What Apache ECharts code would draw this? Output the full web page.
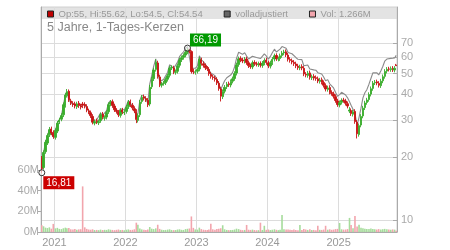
<!DOCTYPE html>
<html><head><meta charset="utf-8">
<script src="https://cdn.jsdelivr.net/npm/echarts@6/dist/echarts.min.js"></script>
<style>html,body{margin:0;padding:0;background:#fff}#c{width:450px;height:250px}</style>
</head><body><div id="c"></div>
<script>
const dates = [
"2020-10-28",
"2020-11-06","2020-11-16","2020-11-26","2020-12-06","2020-12-16","2020-12-26",
"2021-01-06","2021-01-16","2021-01-26","2021-02-06","2021-02-16","2021-02-26","2021-03-06","2021-03-16","2021-03-26","2021-04-06","2021-04-16","2021-04-26",
"2021-05-06","2021-05-16","2021-05-26","2021-06-06","2021-06-16","2021-06-26","2021-07-06","2021-07-16","2021-07-26","2021-08-06","2021-08-16","2021-08-26",
"2021-09-06","2021-09-16","2021-09-26","2021-10-06","2021-10-16","2021-10-26","2021-11-06","2021-11-16","2021-11-26","2021-12-06","2021-12-16","2021-12-26",
"2022-01-06","2022-01-16","2022-01-26","2022-02-06","2022-02-16","2022-02-26","2022-03-06","2022-03-16","2022-03-26","2022-04-06","2022-04-16","2022-04-26",
"2022-05-06","2022-05-16","2022-05-26","2022-06-06","2022-06-16","2022-06-26","2022-07-06","2022-07-16","2022-07-26","2022-08-06","2022-08-16","2022-08-26",
"2022-09-06","2022-09-16","2022-09-26","2022-10-06","2022-10-16","2022-10-26","2022-11-06","2022-11-16","2022-11-26","2022-12-06","2022-12-16","2022-12-26",
"2023-01-06","2023-01-16","2023-01-26","2023-02-06","2023-02-16","2023-02-26","2023-03-06","2023-03-16","2023-03-26","2023-04-06","2023-04-16","2023-04-26",
"2023-05-06","2023-05-16","2023-05-26","2023-06-06","2023-06-16","2023-06-26","2023-07-06","2023-07-16","2023-07-26","2023-08-06","2023-08-16","2023-08-26",
"2023-09-06","2023-09-16","2023-09-26","2023-10-06","2023-10-16","2023-10-26","2023-11-06","2023-11-16","2023-11-26","2023-12-06","2023-12-16","2023-12-26",
"2024-01-06","2024-01-16","2024-01-26","2024-02-06","2024-02-16","2024-02-26","2024-03-06","2024-03-16","2024-03-26","2024-04-06","2024-04-16","2024-04-26",
"2024-05-06","2024-05-16","2024-05-26","2024-06-06","2024-06-16","2024-06-26","2024-07-06","2024-07-16","2024-07-26","2024-08-06","2024-08-16","2024-08-26",
"2024-09-06","2024-09-16","2024-09-26","2024-10-06","2024-10-16","2024-10-26","2024-11-06","2024-11-16","2024-11-26","2024-12-06","2024-12-16","2024-12-26",
"2025-01-06","2025-01-16","2025-01-26","2025-02-06","2025-02-16","2025-02-26","2025-03-06","2025-03-16","2025-03-26","2025-04-06","2025-04-16","2025-04-26",
"2025-05-06","2025-05-16","2025-05-26","2025-06-06","2025-06-16","2025-06-26","2025-07-06","2025-07-16","2025-07-26","2025-08-06","2025-08-16","2025-08-26",
"2025-09-06","2025-09-16","2025-09-26","2025-10-06","2025-10-16","2025-10-24"
];
const opens = [
19.8,17.8,21.2,23.3,25.5,27.2,26.2,24.8,26.6,29.4,
30.3,31.8,35.2,39.3,41.2,37.0,36.0,35.8,34.7,36.1,
35.0,35.8,35.6,34.8,33.2,32.5,31.2,29.0,29.8,29.1,
29.8,32.0,30.6,31.0,32.9,35.8,36.7,35.0,33.4,32.7,
31.6,33.5,32.5,33.0,34.8,36.7,35.3,34.0,33.0,29.9,
31.8,36.8,38.7,38.0,37.3,35.8,43.3,47.3,52.4,56.2,
48.2,44.0,44.9,45.2,47.0,49.1,53.3,53.2,50.7,51.3,
54.8,58.3,59.8,61.3,63.5,65.0,63.7,51.5,50.7,51.3,
52.6,58.2,55.7,54.5,53.0,52.4,49.7,48.2,47.6,46.8,
45.0,42.2,38.8,41.2,43.3,44.7,44.1,46.0,47.4,50.3,
55.3,59.0,58.0,57.3,58.7,56.3,54.4,53.8,56.5,55.6,
55.2,55.8,54.7,56.2,58.0,56.3,54.3,56.4,58.7,61.0,
58.7,59.0,61.0,62.8,63.6,61.3,58.4,57.6,56.6,55.6,
54.3,53.2,54.0,53.0,49.6,49.0,50.4,47.8,48.5,47.8,
47.2,45.9,46.7,45.3,43.8,42.0,42.9,40.6,40.0,38.8,
37.0,35.4,36.5,37.4,37.0,35.9,33.1,33.3,32.0,33.0,
29.3,25.6,28.4,31.4,34.4,36.4,37.6,39.9,42.5,45.2,
45.7,44.9,43.8,46.2,48.5,51.4,52.6,52.3,53.0,52.0,55
];
const highs = [
20.2,21.5,24.1,25.9,27.8,27.9,26.8,27.4,29.7,30.8,
32.3,36.4,40.5,42.2,42.0,37.9,36.9,36.7,36.7,37.0,
35.9,36.6,36.5,35.7,34.0,33.3,32.0,30.2,30.5,30.2,
32.6,32.8,31.6,33.4,36.4,37.4,37.6,35.9,34.2,33.5,
34.1,34.3,33.6,35.4,37.4,37.6,36.2,34.9,33.8,32.3,
37.4,39.5,39.7,39.0,38.2,44.1,48.2,53.3,58.5,57.6,
49.4,45.7,46.1,48.0,50.0,54.3,54.8,54.5,52.3,55.9,
59.5,61.0,62.5,64.8,66.19,65.8,64.5,52.8,52.3,53.6,
60.2,59.6,57.1,55.9,54.3,53.7,50.9,49.4,48.8,48.0,
46.1,43.3,42.0,44.1,45.6,45.8,46.9,48.4,51.3,56.4,
60.3,60.5,59.5,60.0,60.2,57.7,55.8,57.7,57.9,57.0,
57.0,57.2,57.4,59.2,59.5,57.7,57.6,60.0,62.3,62.5,
60.3,62.3,64.2,65.0,65.2,62.8,59.9,59.0,58.0,57.0,
55.7,55.1,55.4,54.3,50.8,51.5,51.7,49.5,49.7,49.0,
48.4,47.7,47.9,46.4,44.9,43.8,44.0,41.6,41.0,39.8,
37.9,37.2,38.1,38.3,37.9,36.8,34.6,34.1,33.6,33.8,
30.0,28.9,32.0,35.1,37.1,38.3,40.7,43.4,46.1,46.6,
46.8,46.0,47.2,49.5,52.5,53.7,53.9,54.1,54.3,54.3,55.62
];
const lows = [
16.81,17.4,20.7,22.8,24.9,25.4,24.4,24.2,26.0,28.7,
29.6,31.0,34.4,38.4,36.6,35.4,34.7,34.1,33.9,34.3,
33.7,34.2,34.1,32.7,32.0,30.7,28.6,28.3,28.7,28.4,
29.1,30.2,29.8,30.2,32.1,34.9,34.3,32.8,32.2,31.0,
30.8,32.0,31.7,32.2,33.9,34.6,33.4,32.4,29.0,29.2,
31.0,35.9,37.2,36.6,34.6,34.9,42.2,46.1,51.1,47.3,
43.1,42.9,43.8,44.1,45.8,47.9,52.0,49.7,49.4,50.0,
53.4,56.8,58.3,59.8,61.9,62.4,50.0,49.7,49.4,50.0,
51.3,54.6,53.4,52.0,51.4,48.8,47.3,46.7,45.8,44.1,
41.4,36.8,37.8,40.2,42.2,43.2,43.0,44.9,46.2,49.0,
53.9,56.7,56.1,55.9,55.1,53.2,52.7,52.5,54.4,54.1,
53.8,53.5,53.3,54.8,55.1,53.1,52.9,55.0,57.2,57.5,
57.2,57.5,59.5,61.2,60.0,57.1,56.4,55.4,54.4,53.1,
52.1,51.9,51.9,48.6,48.0,47.8,46.8,46.6,46.4,46.2,
45.0,44.8,44.4,42.9,41.1,41.0,39.8,39.2,38.0,36.3,
34.7,34.5,35.6,36.3,35.2,34.1,32.4,31.4,31.2,28.8,
24.5,25.0,27.7,30.6,33.5,35.5,36.7,38.9,41.4,44.1,
44.0,42.9,42.7,45.0,47.3,50.1,51.2,51.0,50.9,50.7,54.5
];
const closes = [
17.6,21.0,23.5,25.3,27.0,26.0,25.0,26.8,29.0,30.0,
31.5,35.5,39.5,41.0,37.5,36.3,35.6,35.0,35.8,35.2,
34.6,35.3,35.0,33.5,32.8,31.5,29.3,29.5,29.4,29.5,
31.8,31.0,30.8,32.6,35.5,36.5,35.2,33.6,33.0,31.8,
33.3,32.8,32.8,34.5,36.5,35.5,34.3,33.2,30.2,31.5,
36.5,38.5,38.2,37.5,35.5,43.0,47.0,52.0,56.5,48.5,
44.2,44.6,45.0,46.8,48.8,53.0,53.5,51.0,51.0,54.5,
58.0,59.5,61.0,63.2,64.8,64.0,51.2,51.0,51.0,52.3,
58.5,56.0,54.8,53.3,52.7,50.0,48.5,47.9,47.0,45.2,
42.5,39.0,41.0,43.0,44.5,44.3,45.8,47.2,50.0,55.0,
58.8,58.2,57.5,58.5,56.5,54.6,54.0,56.3,55.8,55.5,
55.6,54.9,56.0,57.8,56.5,54.5,56.2,58.5,60.8,59.0,
58.8,60.8,62.6,63.4,61.5,58.6,57.8,56.8,55.8,54.5,
53.4,53.8,53.2,49.8,49.2,50.2,48.0,48.3,47.6,47.4,
46.1,46.5,45.5,44.0,42.2,42.7,40.8,40.2,39.0,37.2,
35.6,36.3,37.2,37.2,36.1,35.0,33.5,32.2,32.8,29.5,
25.8,28.2,31.2,34.2,36.2,37.4,39.7,42.3,45.0,45.5,
45.1,44.0,46.0,48.3,51.2,52.4,52.5,52.8,52.2,53.0,54.54
];
const adjusted = [
17.6,21.0,23.5,25.3,27.0,26.0,25.0,26.8,29.0,30.0,
31.5,35.5,39.5,41.0,37.5,36.3,35.6,35.0,35.8,35.9,
35.3,36.0,35.7,34.2,33.5,32.1,29.9,30.1,30.0,30.1,
32.4,31.6,31.4,33.3,36.2,37.2,35.9,34.3,33.7,32.4,
34.0,33.5,33.5,35.2,37.2,36.2,35.0,33.9,30.8,32.1,
37.2,39.3,39.0,38.3,36.2,44.7,48.9,54.1,58.8,50.4,
46.0,46.4,46.8,48.7,50.8,55.1,55.6,53.0,53.0,56.7,
60.3,61.9,63.4,65.7,67.4,66.6,53.2,53.0,53.0,54.4,
60.8,58.2,57.0,55.4,54.8,52.0,50.4,49.8,48.9,47.0,
44.2,41.9,44.1,46.2,47.8,47.6,49.2,50.7,53.8,59.1,
63.2,62.6,61.8,62.9,60.7,58.7,58.1,60.5,60.0,59.7,
59.8,59.0,60.2,62.1,60.7,58.6,60.4,62.9,65.4,63.4,
63.2,65.4,67.3,68.2,66.1,63.0,62.1,62.2,61.1,59.7,
58.5,58.9,58.3,54.5,53.9,55.0,52.6,52.9,52.1,51.9,
50.5,50.9,49.8,48.2,46.2,46.8,44.7,44.0,42.7,40.7,
39.0,39.7,40.7,40.7,39.5,38.3,36.7,35.3,35.9,32.3,
28.3,30.9,34.2,38.3,40.5,41.9,44.5,47.4,50.4,51.0,
50.5,49.3,51.5,54.1,57.3,58.7,58.8,59.1,58.5,59.4,61.1
];
// volume in millions
const volumes = [
6.5,5.5,4.2,3.8,4.5,3.2,7.8,3.5,4.0,3.0,
2.8,3.6,4.2,3.5,3.8,2.6,2.4,2.8,2.2,2.5,
2.7,44.0,4.5,3.0,2.4,2.2,2.6,1.9,2.0,1.8,
2.3,1.9,2.1,2.0,2.6,2.2,2.0,1.8,2.1,2.4,
1.9,2.0,1.7,2.2,2.5,2.0,2.1,2.6,9.0,7.0,
3.4,2.5,2.2,2.0,2.4,4.8,3.2,2.8,3.5,7.0,
3.0,2.2,1.9,2.0,2.3,2.6,2.0,1.8,1.9,2.4,
2.6,2.1,2.0,2.8,3.1,3.4,15.0,4.0,2.5,2.3,
4.2,2.8,2.2,2.0,1.9,2.4,8.0,2.6,2.2,2.8,
3.2,3.6,6.5,2.6,2.0,1.8,1.9,2.0,2.4,3.2,
2.8,2.1,1.8,2.0,6.8,2.2,2.0,2.3,1.9,1.7,
1.8,9.0,2.0,6.0,2.1,2.4,1.9,2.2,2.6,2.1,
1.8,2.2,16.4,2.6,2.3,2.5,2.1,1.9,2.3,2.0,
1.8,6.8,2.0,3.0,2.4,2.0,2.6,1.9,2.0,1.8,
6.0,2.1,2.0,2.3,6.0,2.2,2.6,2.1,2.3,2.8,
3.0,8.7,2.6,2.3,2.4,2.8,13.6,6.8,3.5,15.5,
5.2,7.0,4.0,3.6,3.2,2.8,3.0,3.4,2.9,2.6,
2.4,2.8,2.5,2.7,3.0,2.6,2.4,2.2,2.5,2.3,1.266
];
const priceTicks = [10, 20, 30, 40, 50, 60, 70];
const volumeTicks = [0, 20, 40, 60]; // millions
const title = '5 Jahre, 1-Tages-Kerzen';

const priceMin = 8.76, priceMax = 104, volMax = 217; // axis ranges
const FONT = 'Liberation Sans, Arial, Helvetica, sans-serif';
const UP = '#3aad2c', DOWN = '#c81414';
const VOL_UP = '#a6dc9c', VOL_DOWN = '#f2a5ad';
const last = dates.length - 1;

const candleData = dates.map((d, i) => [d, opens[i], closes[i], lows[i], highs[i]]);
const adjData = dates.map((d, i) => [d, adjusted[i]]);
const volData = dates.map((d, i) => ({
  value: [d, volumes[i] * 1e6],
  itemStyle: { color: closes[i] >= opens[i] ? VOL_UP : VOL_DOWN }
}));
let hiIdx = 0, loIdx = 0;
for (let i = 0; i < dates.length; i++) {
  if (highs[i] > highs[hiIdx]) hiIdx = i;
  if (lows[i] < lows[loIdx]) loIdx = i;
}
const fmtDe = v => v.toFixed(2).replace('.', ',');
const candleName = 'Op:' + opens[last] + ', Hi:' + highs[last] + ', Lo:' + lows[last] + ', Cl:' + closes[last];
const volName = 'Vol: ' + volumes[last] + 'M';

const chart = echarts.init(document.getElementById('c'), null, { renderer: 'canvas' });
const markLabel = (bg, pos) => ({
  show: true, position: pos, align: 'left', verticalAlign: 'top',
  backgroundColor: bg, color: '#fff', fontSize: 10, fontFamily: FONT,
  padding: [2, 3, 1, 3], lineHeight: 10
});
chart.setOption({
  animation: false,
  textStyle: { fontFamily: FONT },
  grid: { left: 41, right: 53, top: 7, bottom: 18, show: true, borderColor: '#d0d0d0', borderWidth: 1, backgroundColor: 'transparent' },
  graphic: [{ type: 'rect', left: 41, top: 7, z: -10, shape: { width: 356, height: 12 }, style: { fill: '#e3e3e3' } }],
  title: { text: title, left: 47, top: 21, padding: 0,
    textStyle: { color: '#888', fontSize: 12.5, fontWeight: 'normal', fontFamily: FONT } },
  legend: {
    left: 47, top: 9, padding: 0, itemGap: 21, itemWidth: 6, itemHeight: 6, selectedMode: false,
    textStyle: { color: '#999', fontSize: 9.5, fontFamily: FONT },
    data: [
      { name: candleName, icon: 'rect', itemStyle: { color: '#c00000', borderColor: '#222', borderWidth: 1 } },
      { name: 'volladjustiert', icon: 'rect', itemStyle: { color: '#666', borderColor: '#222', borderWidth: 1 } },
      { name: volName, icon: 'rect', itemStyle: { color: VOL_DOWN, borderColor: '#222', borderWidth: 1 } }
    ]
  },
  xAxis: {
    type: 'time', min: dates[0], max: dates[last], splitNumber: 5,
    minInterval: 365 * 864e5, maxInterval: 366 * 864e5,
    axisLine: { lineStyle: { color: '#aaa' } },
    axisTick: { show: false },
    axisLabel: { color: '#999', fontSize: 11, margin: 5, formatter: '{yyyy}', showMinLabel: false, showMaxLabel: false },
    splitLine: { show: true, lineStyle: { color: '#dcdcdc' } }
  },
  yAxis: [
    { type: 'log', logBase: 10, min: priceMin, max: priceMax, show: false },
    { type: 'value', position: 'right', min: Math.log10(priceMin), max: Math.log10(priceMax),
      axisLine: { show: true, lineStyle: { color: '#aaa' } },
      axisTick: { show: true, inside: true, length: 4, lineStyle: { color: '#aaa' }, customValues: priceTicks.map(Math.log10) },
      axisLabel: { color: '#aaa', fontSize: 11, margin: 4, customValues: priceTicks.map(Math.log10),
        formatter: v => String(Math.round(Math.pow(10, v))) },
      splitLine: { show: true, lineStyle: { color: '#dcdcdc' } } },
    { type: 'value', position: 'left', min: 0, max: volMax * 1e6,
      axisLine: { show: true, lineStyle: { color: '#aaa' } },
      axisTick: { show: true, length: 3, lineStyle: { color: '#aaa' }, customValues: volumeTicks.map(v => v * 1e6) },
      axisLabel: { color: '#aaa', fontSize: 11, margin: 2, customValues: volumeTicks.map(v => v * 1e6),
        formatter: v => Math.round(v / 1e6) + 'M' },
      splitLine: { show: false } }
  ],
  series: [
    { type: 'bar', name: volName, xAxisIndex: 0, yAxisIndex: 2, data: volData, barWidth: 1.6, z: 1, itemStyle: { color: VOL_DOWN } },
    { type: 'line', name: 'volladjustiert', xAxisIndex: 0, yAxisIndex: 0, data: adjData, symbol: 'none', showSymbol: false,
      lineStyle: { color: '#8a8a8a', width: 1.1 }, itemStyle: { color: '#666' }, z: 2 },
    { type: 'candlestick', name: candleName, xAxisIndex: 0, yAxisIndex: 0, data: candleData, barWidth: 1.8, z: 3, clip: false,
      itemStyle: { color: UP, color0: DOWN, borderColor: UP, borderColor0: DOWN, borderWidth: 0.9 },
      markPoint: {
        symbol: 'circle', symbolSize: 6, animation: false,
        itemStyle: { color: 'rgba(255,255,255,0.6)', borderColor: '#333', borderWidth: 1 },
        data: [
          { coord: [dates[hiIdx], highs[hiIdx]], value: highs[hiIdx], label: Object.assign(markLabel('#009a00', [6, -11]), { formatter: fmtDe(highs[hiIdx]) }) },
          { coord: [dates[loIdx], lows[loIdx]], value: lows[loIdx], label: Object.assign(markLabel('#cc0000', [5, 7]), { formatter: fmtDe(lows[loIdx]) }) }
        ]
      } }
  ]
});
</script></body></html>
